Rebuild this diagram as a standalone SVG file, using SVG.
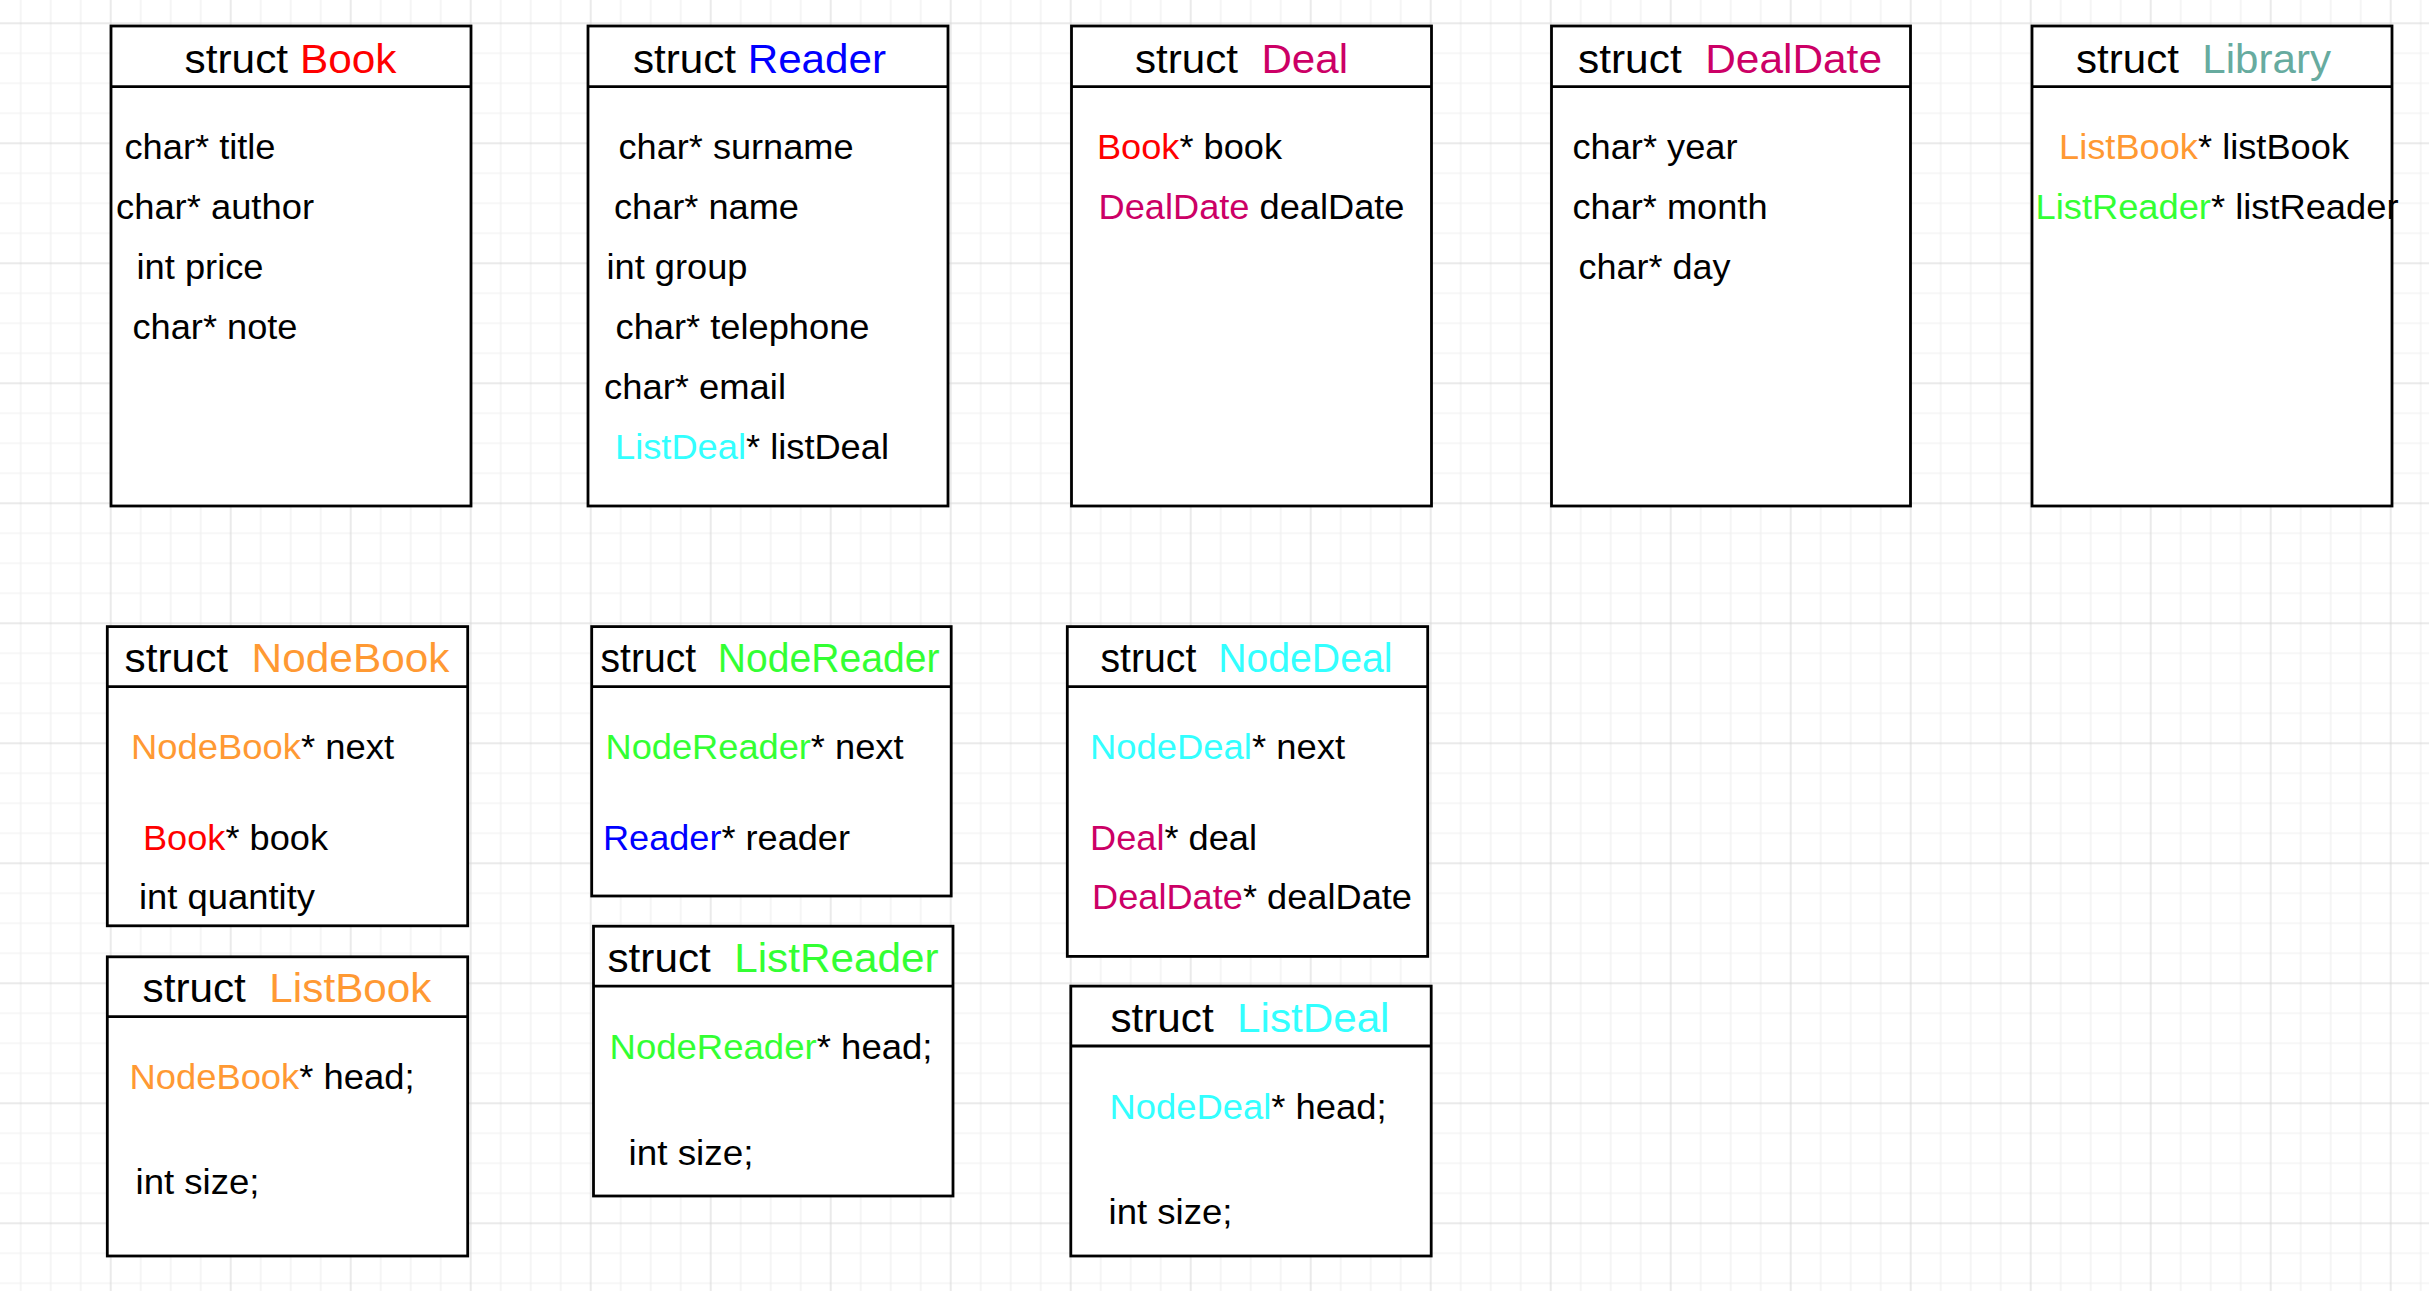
<svg xmlns="http://www.w3.org/2000/svg" width="2429" height="1291" viewBox="0 0 2429 1291">
<style>
.box{fill:#ffffff;stroke:#000000;stroke-width:2.8}
.sep{stroke:#000000;stroke-width:2.8}
text{font-family:"Liberation Sans",Arial,sans-serif;fill:#000000;white-space:pre}
.t{font-size:41px}
.b{font-size:35.5px}
.red{fill:#FF0000}
.blue{fill:#0000FF}
.mag{fill:#CC0066}
.teal{fill:#67AB9F}
.org{fill:#FF9933}
.grn{fill:#33FF33}
.cyn{fill:#33FFFF}
</style>
<defs>
<pattern id="grid" width="120" height="120" patternUnits="userSpaceOnUse" x="35.7" y="-51.7">
<path d="M15 0V120M45 0V120M105 0V120M0 15H120M0 45H120M0 105H120" stroke="#efefef" stroke-width="1.2" fill="none"/>
<path d="M75 0V120M0 75H120" stroke="#d5d5d5" stroke-width="1" fill="none"/>
</pattern>
</defs>
<rect width="2429" height="1291" fill="#ffffff"/>
<rect width="2429" height="1291" fill="url(#grid)"/>
<g id="connectors"></g>

<g id="node-Book">
<rect class="box" x="111" y="26" width="360" height="480"/>
<line class="sep" x1="111" y1="86.7" x2="471" y2="86.7"/>
<text class="t" x="184.5" y="72.5" textLength="212" lengthAdjust="spacingAndGlyphs" xml:space="preserve">struct <tspan class="red">Book</tspan></text>
<text class="b" x="124.5" y="159.3" textLength="151" lengthAdjust="spacingAndGlyphs">char* title</text>
<text class="b" x="116" y="219.3" textLength="198" lengthAdjust="spacingAndGlyphs">char* author</text>
<text class="b" x="136.5" y="279" textLength="127" lengthAdjust="spacingAndGlyphs">int price</text>
<text class="b" x="132.5" y="339.3" textLength="165" lengthAdjust="spacingAndGlyphs">char* note</text>
</g>

<g id="node-Reader">
<rect class="box" x="588" y="26" width="360" height="480"/>
<line class="sep" x1="588" y1="86.7" x2="948" y2="86.7"/>
<text class="t" x="633" y="72.5" textLength="253" lengthAdjust="spacingAndGlyphs" xml:space="preserve">struct <tspan class="blue">Reader</tspan></text>
<text class="b" x="618.5" y="159.3" textLength="235" lengthAdjust="spacingAndGlyphs">char* surname</text>
<text class="b" x="614" y="219.3" textLength="185" lengthAdjust="spacingAndGlyphs">char* name</text>
<text class="b" x="606.5" y="279" textLength="141" lengthAdjust="spacingAndGlyphs">int group</text>
<text class="b" x="615.5" y="339.3" textLength="254" lengthAdjust="spacingAndGlyphs">char* telephone</text>
<text class="b" x="604" y="399" textLength="182" lengthAdjust="spacingAndGlyphs">char* email</text>
<text class="b" x="615" y="459" textLength="274" lengthAdjust="spacingAndGlyphs"><tspan class="cyn">ListDeal</tspan>* listDeal</text>
</g>

<g id="node-Deal">
<rect class="box" x="1071.5" y="26" width="360" height="480"/>
<line class="sep" x1="1071.5" y1="86.7" x2="1431.5" y2="86.7"/>
<text class="t" x="1135" y="72.5" textLength="213" lengthAdjust="spacingAndGlyphs" xml:space="preserve">struct  <tspan class="mag">Deal</tspan></text>
<text class="b" x="1097" y="159.3" textLength="185" lengthAdjust="spacingAndGlyphs"><tspan class="red">Book</tspan>* book</text>
<text class="b" x="1098.5" y="219.3" textLength="306" lengthAdjust="spacingAndGlyphs" xml:space="preserve"><tspan class="mag">DealDate</tspan> dealDate</text>
</g>

<g id="node-DealDate">
<rect class="box" x="1551.5" y="26" width="359" height="480"/>
<line class="sep" x1="1551.5" y1="86.7" x2="1910.5" y2="86.7"/>
<text class="t" x="1578" y="72.5" textLength="304" lengthAdjust="spacingAndGlyphs" xml:space="preserve">struct  <tspan class="mag">DealDate</tspan></text>
<text class="b" x="1572.5" y="159.3" textLength="165" lengthAdjust="spacingAndGlyphs">char* year</text>
<text class="b" x="1572.5" y="219.3" textLength="195" lengthAdjust="spacingAndGlyphs">char* month</text>
<text class="b" x="1578.5" y="279" textLength="152" lengthAdjust="spacingAndGlyphs">char* day</text>
</g>

<g id="node-Library">
<rect class="box" x="2032" y="26" width="360" height="480"/>
<line class="sep" x1="2032" y1="86.7" x2="2392" y2="86.7"/>
<text class="t" x="2076" y="72.5" textLength="255" lengthAdjust="spacingAndGlyphs" xml:space="preserve">struct  <tspan class="teal">Library</tspan></text>
<text class="b" x="2059" y="159.3" textLength="290" lengthAdjust="spacingAndGlyphs"><tspan class="org">ListBook</tspan>* listBook</text>
<text class="b" x="2035.5" y="219.3" textLength="363" lengthAdjust="spacingAndGlyphs"><tspan class="grn">ListReader</tspan>* listReader</text>
</g>

<g id="node-NodeBook">
<rect class="box" x="107.3" y="626.6" width="360.4" height="299.2"/>
<line class="sep" x1="107.3" y1="686.6" x2="467.7" y2="686.6"/>
<text class="t" x="124.5" y="672.3" textLength="325" lengthAdjust="spacingAndGlyphs" xml:space="preserve">struct  <tspan class="org">NodeBook</tspan></text>
<text class="b" x="131" y="759.4" textLength="263" lengthAdjust="spacingAndGlyphs"><tspan class="org">NodeBook</tspan>* next</text>
<text class="b" x="143" y="849.9" textLength="185" lengthAdjust="spacingAndGlyphs"><tspan class="red">Book</tspan>* book</text>
<text class="b" x="139" y="909.4" textLength="176" lengthAdjust="spacingAndGlyphs">int quantity</text>
</g>

<g id="node-ListBook">
<rect class="box" x="107.3" y="956.8" width="360.4" height="299.2"/>
<line class="sep" x1="107.3" y1="1016.7" x2="467.7" y2="1016.7"/>
<text class="t" x="142.5" y="1001.6" textLength="289" lengthAdjust="spacingAndGlyphs" xml:space="preserve">struct  <tspan class="org">ListBook</tspan></text>
<text class="b" x="129.5" y="1089.1" textLength="285" lengthAdjust="spacingAndGlyphs"><tspan class="org">NodeBook</tspan>* head;</text>
<text class="b" x="135.5" y="1193.9" textLength="124" lengthAdjust="spacingAndGlyphs">int size;</text>
</g>

<g id="node-NodeReader">
<rect class="box" x="591.7" y="626.6" width="359.5" height="269.4"/>
<line class="sep" x1="591.7" y1="686.6" x2="951.2" y2="686.6"/>
<text class="t" x="600.5" y="672.3" textLength="339" lengthAdjust="spacingAndGlyphs" xml:space="preserve">struct  <tspan class="grn">NodeReader</tspan></text>
<text class="b" x="605.5" y="759.4" textLength="298" lengthAdjust="spacingAndGlyphs"><tspan class="grn">NodeReader</tspan>* next</text>
<text class="b" x="603" y="849.9" textLength="247" lengthAdjust="spacingAndGlyphs"><tspan class="blue">Reader</tspan>* reader</text>
</g>

<g id="node-ListReader">
<rect class="box" x="593.5" y="926.2" width="359.5" height="269.8"/>
<line class="sep" x1="593.5" y1="986.1" x2="953" y2="986.1"/>
<text class="t" x="607.5" y="971.9" textLength="331" lengthAdjust="spacingAndGlyphs" xml:space="preserve">struct  <tspan class="grn">ListReader</tspan></text>
<text class="b" x="609.5" y="1059" textLength="323" lengthAdjust="spacingAndGlyphs"><tspan class="grn">NodeReader</tspan>* head;</text>
<text class="b" x="628.5" y="1164.6" textLength="125" lengthAdjust="spacingAndGlyphs">int size;</text>
</g>

<g id="node-NodeDeal">
<rect class="box" x="1067.3" y="626.6" width="360.4" height="329.8"/>
<line class="sep" x1="1067.3" y1="686.6" x2="1427.7" y2="686.6"/>
<text class="t" x="1100.5" y="672.3" textLength="292" lengthAdjust="spacingAndGlyphs" xml:space="preserve">struct  <tspan class="cyn">NodeDeal</tspan></text>
<text class="b" x="1090" y="759.4" textLength="255" lengthAdjust="spacingAndGlyphs"><tspan class="cyn">NodeDeal</tspan>* next</text>
<text class="b" x="1090" y="849.9" textLength="167" lengthAdjust="spacingAndGlyphs"><tspan class="mag">Deal</tspan>* deal</text>
<text class="b" x="1092" y="909.4" textLength="320" lengthAdjust="spacingAndGlyphs"><tspan class="mag">DealDate</tspan>* dealDate</text>
</g>

<g id="node-ListDeal">
<rect class="box" x="1070.8" y="986.1" width="360.4" height="269.9"/>
<line class="sep" x1="1070.8" y1="1046" x2="1431.2" y2="1046"/>
<text class="t" x="1110.5" y="1032.2" textLength="279" lengthAdjust="spacingAndGlyphs" xml:space="preserve">struct  <tspan class="cyn">ListDeal</tspan></text>
<text class="b" x="1109.5" y="1119.3" textLength="277" lengthAdjust="spacingAndGlyphs"><tspan class="cyn">NodeDeal</tspan>* head;</text>
<text class="b" x="1108.5" y="1224.1" textLength="124" lengthAdjust="spacingAndGlyphs">int size;</text>
</g>
</svg>
